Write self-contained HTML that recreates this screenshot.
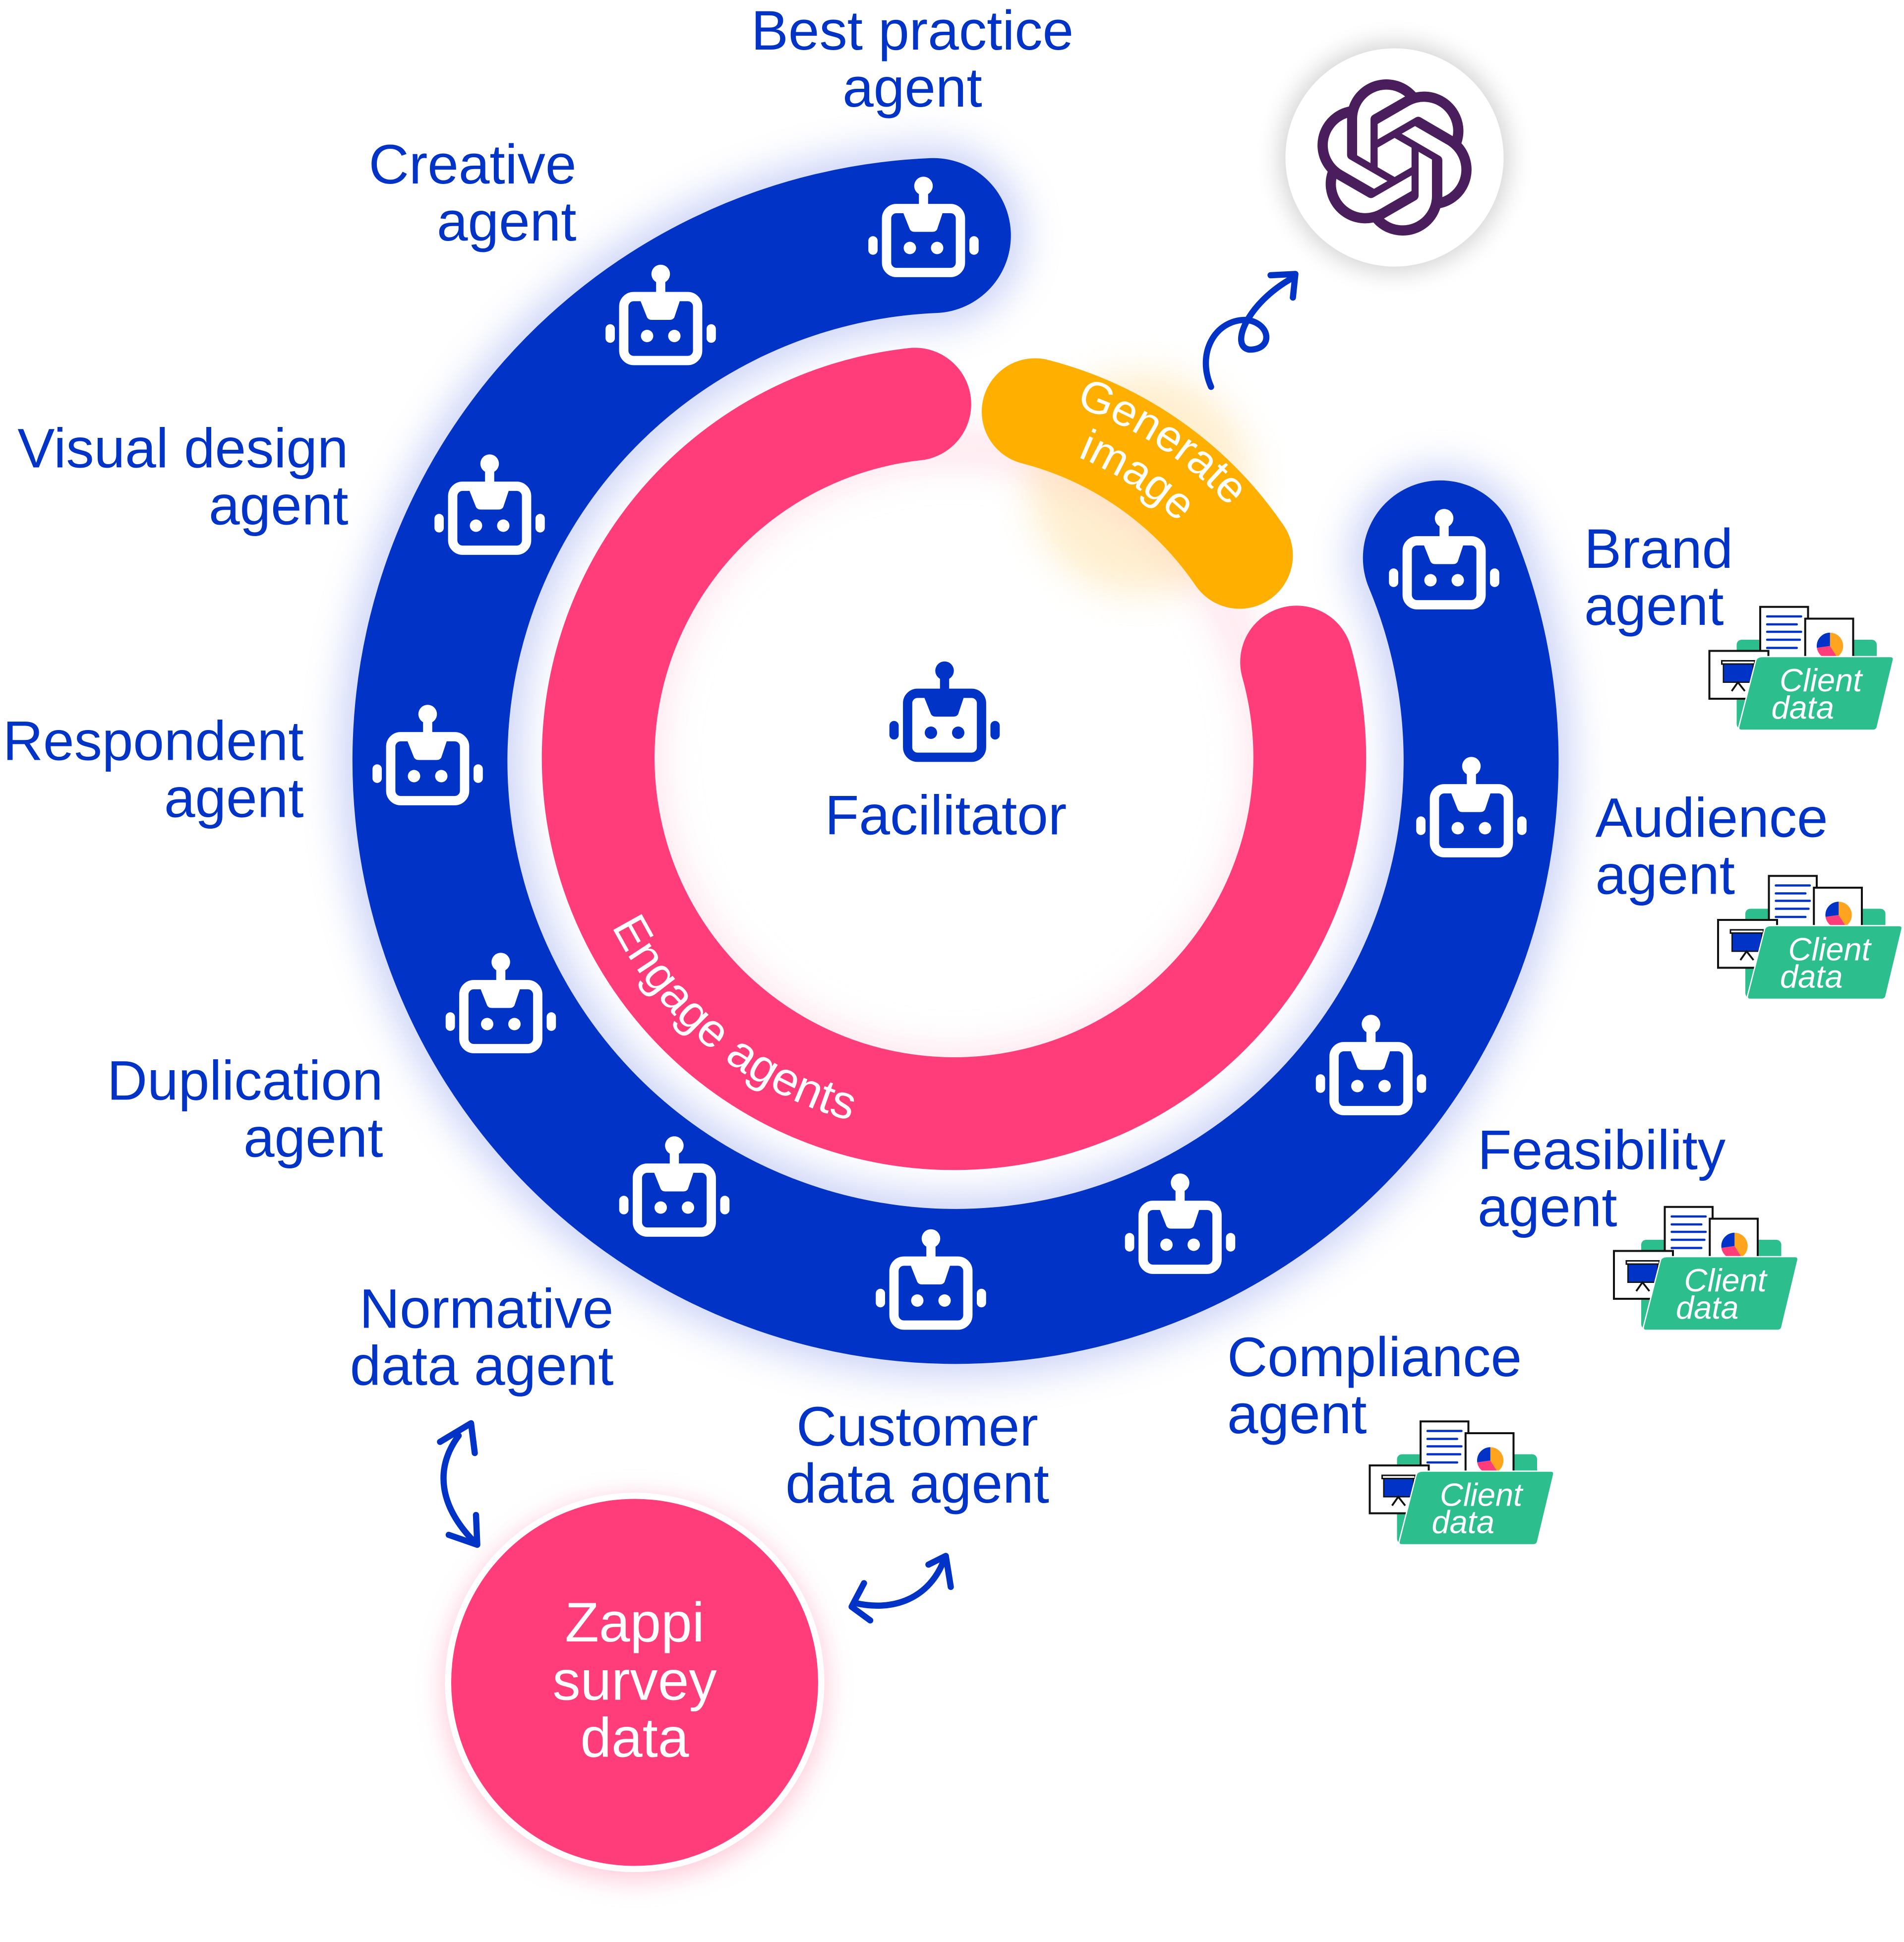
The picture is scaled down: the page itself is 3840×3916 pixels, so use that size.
<!DOCTYPE html>
<html><head><meta charset="utf-8"><style>
html,body{margin:0;padding:0;background:#fff;width:3840px;height:3916px;overflow:hidden}
svg{display:block}
text{font-family:"Liberation Sans",sans-serif}
</style></head><body>
<svg width="3840" height="3916" viewBox="0 0 1536 1566.4" xmlns="http://www.w3.org/2000/svg">
<defs>
<filter id="glow" x="-30%" y="-30%" width="160%" height="160%"><feGaussianBlur stdDeviation="14"/></filter>
<filter id="sh" x="-30%" y="-30%" width="160%" height="160%"><feGaussianBlur stdDeviation="10"/></filter>
<g id="robot">
 <circle cx="0" cy="-44" r="7.5" fill="currentColor"/>
 <rect x="-3.7" y="-40" width="7.4" height="14" fill="currentColor"/>
 <rect x="-29.8" y="-25.8" width="59.6" height="51.6" rx="8" fill="none" stroke="currentColor" stroke-width="7.5"/>
 <path d="M-17,-24 L16,-24 L11,-9 Q10,-7 7,-7 L-7,-7 Q-10,-7 -11,-9 Z" fill="currentColor"/>
 <circle cx="-11" cy="6" r="5" fill="currentColor"/>
 <circle cx="11" cy="6" r="5" fill="currentColor"/>
 <rect x="-44.5" y="-3.5" width="7.5" height="15" rx="3.7" fill="currentColor"/>
 <rect x="37" y="-3.5" width="7.5" height="15" rx="3.7" fill="currentColor"/>
</g>
<g id="client">
 <rect x="22" y="27" width="113" height="72" rx="4" fill="#2DBE8E"/>
 <rect x="41" y="0.5" width="38.6" height="50" fill="#fff" stroke="#111" stroke-width="1.6"/>
 <g stroke="#0033C6" stroke-width="1.8" stroke-linecap="round">
 <line x1="46.6" y1="8.2" x2="74" y2="8.2"/><line x1="46.6" y1="14.6" x2="70.5" y2="14.6"/>
 <line x1="46.6" y1="20.6" x2="74" y2="20.6"/><line x1="46.6" y1="27" x2="73" y2="27"/><line x1="46.6" y1="33.6" x2="70.5" y2="33.6"/></g>
 <rect x="77.3" y="10" width="38.7" height="40" fill="#fff" stroke="#111" stroke-width="1.6"/>
 <path d="M97.3,32 L97.3,21.3 A10.7,10.7 0 0 1 103,41 Z" fill="#FFA41E"/>
 <path d="M97.3,32 L103,41 A10.7,10.7 0 0 1 86.7,33.5 Z" fill="#FF3D7A"/>
 <path d="M97.3,32 L86.7,33.5 A10.7,10.7 0 0 1 97.3,21.3 Z" fill="#0033C6"/>
 <rect x="0" y="36" width="47.6" height="38.6" fill="#fff" stroke="#111" stroke-width="1.6"/>
 <rect x="10" y="44" width="26.6" height="2.6" fill="#fff" stroke="#111" stroke-width="1.2"/>
 <rect x="11.3" y="46.6" width="24" height="14.7" fill="#0033C6" stroke="#111" stroke-width="1"/>
 <path d="M18,68.4 L23,61.3 L28.6,68.4" fill="none" stroke="#111" stroke-width="1.5"/>
 <path d="M43,40.6 L146,40.6 Q149,40.6 148.3,43.5 L135.5,97 Q135,100 132,100 L26,100 Q23,100 23.8,97 L37.5,43.5 Q38.5,40.6 43,40.6 Z" fill="#2DBE8E" stroke="#fff" stroke-width="1"/>
 <text x="56.6" y="68.6" font-size="26" font-style="italic" fill="#fff">Client</text>
 <text x="50" y="90.6" font-size="26" font-style="italic" fill="#fff">data</text>
</g>
</defs>

<!-- glows -->
<path d="M1162,450 A424,424 0 1 1 753,190" fill="none" stroke="#9aa8f0" stroke-width="150" stroke-linecap="round" opacity="0.45" filter="url(#glow)"/>
<circle cx="770" cy="611" r="250" fill="none" stroke="#ffd6e2" stroke-width="30" opacity="0.6" filter="url(#glow)"/>
<circle cx="1125" cy="127" r="92" fill="#000" opacity="0.18" filter="url(#sh)"/>
<circle cx="512" cy="1362" r="155" fill="#ff9ab8" opacity="0.5" filter="url(#sh)"/>
<circle cx="920" cy="390" r="90" fill="#ffd27a" opacity="0.35" filter="url(#glow)"/>

<!-- blue ring -->
<path d="M1162,450 A424,424 0 1 1 753,190" fill="none" stroke="#0033C6" stroke-width="125" stroke-linecap="round"/>
<!-- pink ring -->
<path d="M1046,534 A287,287 0 1 1 738,326" fill="none" stroke="#FF3D7A" stroke-width="91" stroke-linecap="round"/>
<!-- yellow arc -->
<path d="M835,332 A286,286 0 0 1 1000,448" fill="none" stroke="#FFAF00" stroke-width="86" stroke-linecap="round"/>

<path id="genp1" d="M822,316 A300,300 0 0 1 1052,508" fill="none"/>
<path id="genp2" d="M815.5,353 A262,262 0 0 1 1016,521" fill="none"/>
<text font-size="36" fill="#fff"><textPath href="#genp1" startOffset="47">Generate</textPath></text>
<text font-size="36" fill="#fff"><textPath href="#genp2" startOffset="56">image</textPath></text>
<path id="engp" d="M490,740 A303,303 0 0 0 770,914" fill="none"/>
<text font-size="38" fill="#fff"><textPath href="#engp" startOffset="8">Engage agents</textPath></text>

<!-- robots -->
<g color="#fff">
<use href="#robot" x="745" y="194"/>
<use href="#robot" x="533" y="265"/>
<use href="#robot" x="395" y="418"/>
<use href="#robot" x="345" y="620"/>
<use href="#robot" x="404" y="820"/>
<use href="#robot" x="544" y="968"/>
<use href="#robot" x="751" y="1043"/>
<use href="#robot" x="952" y="998"/>
<use href="#robot" x="1106" y="870"/>
<use href="#robot" x="1187" y="662"/>
<use href="#robot" x="1165" y="462"/>
</g>
<use href="#robot" x="762" y="585" color="#0033C6"/>
<text x="763" y="673" font-size="45" fill="#0033C6" text-anchor="middle">Facilitator</text>

<!-- labels -->
<g font-size="45" fill="#0033C6">
<text x="736" y="40" text-anchor="middle">Best practice</text><text x="736" y="86" text-anchor="middle">agent</text>
<text x="465" y="148" text-anchor="end">Creative</text><text x="465" y="194" text-anchor="end">agent</text>
<text x="281" y="377" text-anchor="end">Visual design</text><text x="281" y="423" text-anchor="end">agent</text>
<text x="245" y="613" text-anchor="end">Respondent</text><text x="245" y="659" text-anchor="end">agent</text>
<text x="309" y="887" text-anchor="end">Duplication</text><text x="309" y="933" text-anchor="end">agent</text>
<text x="495" y="1071" text-anchor="end">Normative</text><text x="495" y="1117" text-anchor="end">data agent</text>
<text x="740" y="1166" text-anchor="middle">Customer</text><text x="740" y="1212" text-anchor="middle">data agent</text>
<text x="990" y="1110">Compliance</text><text x="990" y="1156">agent</text>
<text x="1192" y="943">Feasibility</text><text x="1192" y="989">agent</text>
<text x="1287" y="675">Audience</text><text x="1287" y="721">agent</text>
<text x="1278" y="458">Brand</text><text x="1278" y="504">agent</text>
</g>

<!-- client data icons -->
<use href="#client" x="1379" y="489"/>
<use href="#client" x="1386" y="706"/>
<use href="#client" x="1302" y="973"/>
<use href="#client" x="1105" y="1146"/>

<!-- OpenAI circle -->
<circle cx="1125" cy="127" r="88" fill="#fff"/>
<path transform="translate(1062,64) scale(5.25)" fill="#4A1D5C" d="M22.282 9.821a5.985 5.985 0 0 0-.516-4.91 6.046 6.046 0 0 0-6.51-2.9A6.065 6.065 0 0 0 4.981 4.18a5.985 5.985 0 0 0-3.998 2.9 6.046 6.046 0 0 0 .743 7.097 5.98 5.98 0 0 0 .51 4.911 6.051 6.051 0 0 0 6.515 2.9A5.985 5.985 0 0 0 13.26 24a6.056 6.056 0 0 0 5.772-4.206 5.99 5.99 0 0 0 3.997-2.9 6.056 6.056 0 0 0-.747-7.073zM13.26 22.43a4.476 4.476 0 0 1-2.876-1.04l.141-.081 4.779-2.758a.795.795 0 0 0 .392-.681v-6.737l2.02 1.168a.071.071 0 0 1 .038.052v5.583a4.504 4.504 0 0 1-4.494 4.494zM3.6 18.304a4.47 4.47 0 0 1-.535-3.014l.142.085 4.783 2.759a.771.771 0 0 0 .78 0l5.843-3.369v2.332a.08.08 0 0 1-.033.062L9.74 19.95a4.5 4.5 0 0 1-6.14-1.646zM2.34 7.896a4.485 4.485 0 0 1 2.366-1.973V11.6a.766.766 0 0 0 .388.676l5.815 3.355-2.02 1.168a.076.076 0 0 1-.071 0l-4.83-2.786A4.504 4.504 0 0 1 2.34 7.872zm16.597 3.855l-5.833-3.387L15.119 7.2a.076.076 0 0 1 .071 0l4.83 2.791a4.494 4.494 0 0 1-.676 8.105v-5.678a.79.79 0 0 0-.407-.667zm2.01-3.023l-.141-.085-4.774-2.782a.776.776 0 0 0-.785 0L9.409 9.23V6.897a.066.066 0 0 1 .028-.061l4.83-2.787a4.5 4.5 0 0 1 6.68 4.66zm-12.64 4.135l-2.02-1.164a.08.08 0 0 1-.038-.057V6.075a4.5 4.5 0 0 1 7.375-3.453l-.142.08L8.704 5.46a.795.795 0 0 0-.393.681zm1.097-2.365l2.602-1.5 2.607 1.5v2.999l-2.597 1.5-2.607-1.5Z"/>

<!-- arrows -->
<g fill="none" stroke="#0033C6" stroke-width="5" stroke-linecap="round" stroke-linejoin="round">
<path d="M977,312 C965,285 980,258 1005,258 C1025,260 1028,282 1008,282 C992,280 1005,245 1043,224"/>
<path d="M1025,222 L1045,221 L1043,240"/>
<path d="M370,1158 C350,1185 355,1215 382,1243"/>
<path d="M355,1163 L380,1148 L383,1172"/>
<path d="M362,1238 L385,1246 L384,1222"/>
<path d="M690,1293 C720,1300 750,1290 762,1257"/>
<path d="M697,1277 L687,1296 L702,1307"/>
<path d="M749,1262 L763,1255 L767,1280"/>
</g>

<!-- Zappi -->
<circle cx="512" cy="1357" r="153" fill="#fff"/>
<circle cx="512" cy="1357" r="148" fill="#FF3D7A"/>
<g font-size="45" fill="#fff" text-anchor="middle">
<text x="512" y="1324">Zappi</text><text x="512" y="1371">survey</text><text x="512" y="1417">data</text>
</g>
</svg>
</body></html>
